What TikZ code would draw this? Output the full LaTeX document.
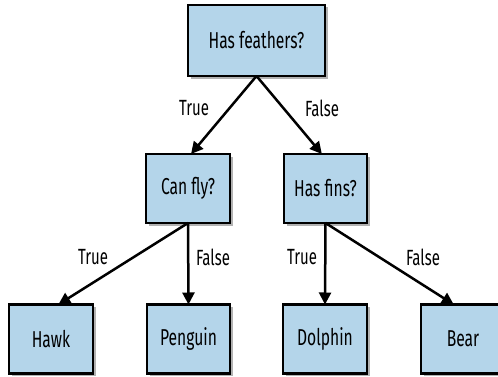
\documentclass[tikz,border=0pt]{standalone}
\usepackage{fontspec}
\setmainfont[FakeStretch=0.68]{Fira Sans}
\usetikzlibrary{arrows.meta,shadows}
\definecolor{boxblue}{RGB}{180,213,234}
\begin{document}
\begin{tikzpicture}[x=1pt,y=1pt,
  decbox/.style={draw=black, line width=2.4pt, fill=boxblue, minimum height=69pt,
    inner sep=0pt, outer sep=0pt, font=\fontsize{23}{26}\selectfont,
    drop shadow={shadow xshift=2.5pt, shadow yshift=-2.5pt, fill=black, opacity=0.3}},
  edge/.style={line width=2.5pt, -{Triangle[length=12pt,width=12pt]}},
  lbl/.style={font=\fontsize{22}{25}\selectfont, inner sep=0pt}]
\useasboundingbox (0,0) rectangle (498,376);
\node[decbox, minimum width=137pt, minimum height=71pt] (root) at (256.5,335.5) {Has feathers?};
\node[decbox, minimum width=84pt] (canfly) at (188,187.5) {Can fly?};
\node[decbox, minimum width=83pt] (hasfins) at (325.5,187.5) {Has fins?};
\node[decbox, minimum width=84pt] (hawk) at (51,37) {Hawk};
\node[decbox, minimum width=83pt] (penguin) at (188.5,37) {Penguin};
\node[decbox, minimum width=84pt] (dolphin) at (325,37) {Dolphin};
\node[decbox, minimum width=84pt] (bear) at (463,37) {Bear};
\draw[edge] (root.south) -- (canfly.85);
\draw[edge] (root.south) -- (hasfins.96);
\draw[edge] (canfly.south) -- (hawk.78);
\draw[edge] (canfly.south) -- (penguin.north);
\draw[edge] (hasfins.south) -- (dolphin.north);
\draw[edge] (hasfins.south) -- (bear.105);
\node[lbl] (l1) at (194,268) {True};
\node[lbl] (l2) at (322,268) {False};
\node[lbl] (l3) at (93,119) {True};
\node[lbl] (l4) at (213,119) {False};
\node[lbl] (l5) at (302,119) {True};
\node[lbl] (l6) at (423,119) {False};
\end{tikzpicture}
\end{document}
